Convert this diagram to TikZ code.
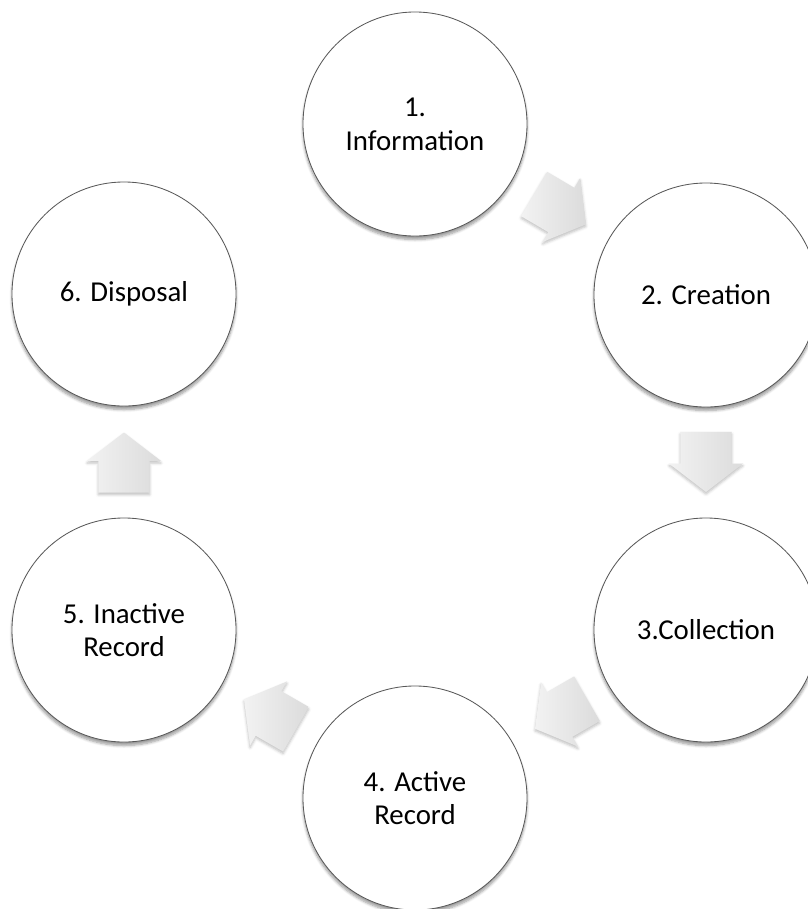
\documentclass[tikz,border=0pt]{standalone}
\usepackage{fontspec}
\setmainfont{Carlito}
\usepackage{tikz}
\usetikzlibrary{shapes.arrows}
\usetikzlibrary{shadows.blur}
\usetikzlibrary{calc,positioning}

\begin{document}
\begin{tikzpicture}[x=0.025cm, y=-0.025cm,
    etapa/.style={circle, draw=black!65, line width=0.6pt, fill=white,
        minimum size=5.6cm, inner sep=0pt, align=center,
        font=\fontsize{20.5}{24}\selectfont,
        blur shadow={shadow xshift=0pt, shadow yshift=-2.5pt, shadow blur steps=6, shadow opacity=40}},
    seta/.style={single arrow, draw=none, minimum height=1.5cm, minimum width=1.85cm,
        inner xsep=0pt, inner ysep=0.5625cm, single arrow tip angle=105,
        left color=black!5, right color=black!14,
        blur shadow={shadow xshift=0pt, shadow yshift=-1.5pt, shadow blur steps=4, shadow opacity=25}}]

    % moldura
    \useasboundingbox (0,0) rectangle (808,909);
    \clip (0,0) rectangle (808,909);

    % etapas do ciclo
    \node[etapa] (info)     at (415,124) {1.\\Information};
    \node[etapa] (criacao)  at (706,295) {2. Creation};
    \node[etapa] (coleta)   at (706,630) {3.Collection};
    \node[etapa] (ativo)    at (415,798) {4. Active\\Record};
    \node[etapa] (inativo)  at (124,630) {5. Inactive\\Record};
    \node[etapa] (descarte) at (124,294) {6. Disposal};

    % setas entre as etapas
    \foreach \a/\b in {info/criacao, criacao/coleta, coleta/ativo, ativo/inativo, inativo/descarte}
        \path let \p1 = ($(\b)-(\a)$), \n1 = {atan2(\y1,\x1)} in
            node[seta, rotate=\n1] (seta-\a) at ($(\a)!0.469!(\b)$) {};
\end{tikzpicture}
\end{document}
